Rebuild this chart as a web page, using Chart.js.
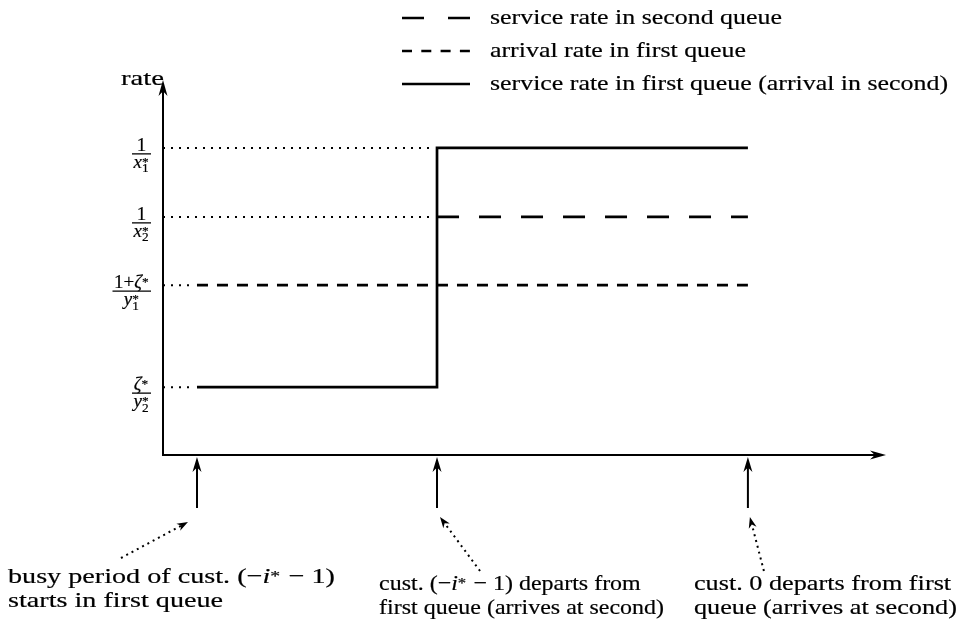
<!DOCTYPE html>
<html><head><meta charset="utf-8">
<script src="https://cdn.jsdelivr.net/npm/chart.js@4.4.0/dist/chart.umd.min.js"></script>
<style>html,body{margin:0;padding:0;background:#fff;}#wrap{width:965px;height:626px;}</style>
</head><body><div id="wrap"><canvas id="c" width="965" height="626"></canvas></div>
<script>
// ---------- data ----------
const eventTimes = [0.47, 3.79, 8.09];                 // busy start, cust (-i*-1) departs, cust 0 departs
const levelValues = [8.19, 6.35, 4.53, 1.81];          // rate levels
const levelNumerators = ['1', '1', '1+$ζ^*$', '$ζ^*$'];
const levelDenominators = ['$x_1^*$', '$x_2^*$', '$y_1^*$', '$y_2^*$'];
const serviceSecondQueue = [null, 6.35, 6.35];
const arrivalFirstQueue = [4.53, 4.53, 4.53];
const serviceFirstQueue = [1.81, 8.19, 8.19];
const seriesLabels = ['service rate in second queue', 'arrival rate in first queue', 'service rate in first queue (arrival in second)'];
const yAxisTitle = 'rate';
const eventCaptions = [
  ['busy period of cust. (−$i^*$ − 1)', 'starts in first queue'],
  ['cust. (−$i^*$ − 1) departs from', 'first queue (arrives at second)'],
  ['cust. 0 departs from first', 'queue (arrives at second)']
];

// ---------- rich text (tiny TeX-like) ----------
const FAM = '"Liberation Serif"';
function fontStr(size, it) { return (it ? 'italic ' : '') + size.toFixed(2) + 'px ' + FAM; }
function parseRich(str) {
  const items = [];
  str.split('$').forEach((p, idx) => {
    if (idx % 2 === 0) { if (p) items.push({t: p, it: false}); return; }
    let i = 0;
    while (i < p.length) {
      if (p[i] === '^' || p[i] === '_') {
        let sup = null, sub = null;
        while (i < p.length && (p[i] === '^' || p[i] === '_')) {
          if (p[i] === '^') sup = p[i + 1]; else sub = p[i + 1];
          i += 2;
        }
        items.push({stack: true, sup, sub});
      } else {
        items.push({t: p[i], it: /[a-zA-Zζ]/.test(p[i])});
        i++;
      }
    }
  });
  return items;
}
function richLayout(ctx, str, size) {
  const items = parseRich(str);
  let w = 0;
  items.forEach(it => {
    if (it.stack) {
      ctx.font = fontStr(size * 0.7, false);
      const a = it.sup ? ctx.measureText(it.sup).width : 0;
      const b = it.sub ? ctx.measureText(it.sub).width : 0;
      it.w = Math.max(a, b) + size * 0.05;
    } else {
      ctx.font = fontStr(size, it.it);
      it.w = ctx.measureText(it.t).width;
    }
    w += it.w;
  });
  return {items, w};
}
function putText(ctx, t, x, y) {
  ctx.fillText(t, x, y);
  ctx.strokeText(t, x, y);
}
function drawRich(ctx, str, x, y, size, align, sx) {
  sx = sx || 1;
  const {items, w} = richLayout(ctx, str, size);
  const W = w * sx;
  const x0 = align === 'center' ? x - W / 2 : align === 'right' ? x - W : x;
  ctx.save();
  ctx.translate(x0, y);
  ctx.scale(sx, 1);
  ctx.textAlign = 'left';
  ctx.textBaseline = 'alphabetic';
  ctx.setLineDash([]);
  ctx.lineWidth = 0.2;
  let cx = 0;
  items.forEach(it => {
    if (it.stack) {
      ctx.font = fontStr(size * 0.7, false);
      if (it.sup) putText(ctx, it.sup, cx, -(it.sup === '*' ? size * 0.1 : size * 0.4));
      if (it.sub) putText(ctx, it.sub, cx, size * 0.24);
    } else {
      ctx.font = fontStr(size, it.it);
      putText(ctx, it.t, cx, 0);
    }
    cx += it.w;
  });
  ctx.restore();
  return W;
}
function stretchFor(ctx, lines, size, target) {
  const w = Math.max(...lines.map(s => richLayout(ctx, s, size).w));
  return target / w;
}

// ---------- arrows ----------
function arrowHead(ctx, tx, ty, ang, len, half) {
  ctx.save();
  ctx.translate(tx, ty);
  ctx.rotate(ang);
  ctx.beginPath();
  ctx.moveTo(0, 0);
  ctx.lineTo(-len, -half);
  ctx.lineTo(-len * 0.7, 0);
  ctx.lineTo(-len, half);
  ctx.closePath();
  ctx.fill();
  ctx.restore();
}

// ---------- datasets ----------
const pts = vals => eventTimes.map((t, i) => ({x: t, y: vals[i]}));
const allSeries = [serviceSecondQueue, arrivalFirstQueue, serviceFirstQueue];
// dotted guides from the rate axis to where each level first appears
const guideEnds = levelValues.map(v => {
  for (let i = 0; i < eventTimes.length; i++) {
    if (allSeries.some(s => s[i] === v)) return eventTimes[i];
  }
  return eventTimes[0];
});
const guideSets = levelValues.map((v, k) => ({
  label: '', isGuide: true,
  data: [{x: 0, y: v}, {x: guideEnds[k] - 0.1, y: v}],
  borderColor: '#000', borderWidth: 2, borderDash: [2, 6], pointRadius: 0, order: 5
}));

const mainSets = [
  {label: seriesLabels[0], data: pts(serviceSecondQueue), borderColor: '#000', borderWidth: 2.7, borderDash: [22, 20], legendDash: [22, 24], pointRadius: 0, spanGaps: false},
  {label: seriesLabels[1], data: pts(arrivalFirstQueue), borderColor: '#000', borderWidth: 2.7, borderDash: [11, 9], legendDash: [10, 9.3], pointRadius: 0},
  {label: seriesLabels[2], data: pts(serviceFirstQueue), borderColor: '#000', borderWidth: 2.7, stepped: 'before', pointRadius: 0}
];

const decor = {
  id: 'decor',
  afterDraw(chart) {
    const ctx = chart.ctx;
    const {left: L, right: R, top: T, bottom: B} = chart.chartArea;
    const xs = chart.scales.x, ys = chart.scales.y;
    ctx.save();
    ctx.strokeStyle = '#000';
    ctx.fillStyle = '#000';
    ctx.setLineDash([]);
    ctx.lineWidth = 2;
    // axes
    ctx.beginPath();
    ctx.moveTo(L, T + 8); ctx.lineTo(L, B); ctx.lineTo(R - 8, B);
    ctx.stroke();
    arrowHead(ctx, L, T, -Math.PI / 2, 16, 4.5);
    arrowHead(ctx, R, B, 0, 16, 4.5);

    const TS = 22; // text size
    // axis title
    drawRich(ctx, yAxisTitle, L + 1, T + 5, TS, 'right', stretchFor(ctx, [yAxisTitle], TS, 43));

    // fraction tick labels
    const fs = 19;
    levelValues.forEach((v, k) => {
      const y = ys.getPixelForValue(v);
      const nw = richLayout(ctx, levelNumerators[k], fs).w;
      const dw = richLayout(ctx, levelDenominators[k], fs).w;
      const bw = Math.max(nw, dw) + 3;
      const cx = L - 12 - bw / 2;
      const bar = y + 6;
      ctx.lineWidth = 1.3;
      ctx.beginPath(); ctx.moveTo(cx - bw / 2, bar); ctx.lineTo(cx + bw / 2, bar); ctx.stroke();
      drawRich(ctx, levelNumerators[k], cx, bar - 3, fs, 'center');
      drawRich(ctx, levelDenominators[k], cx, bar + 14, fs, 'center');
    });

    // event arrows from below
    ctx.lineWidth = 2;
    eventTimes.forEach(t => {
      const px = xs.getPixelForValue(t);
      ctx.beginPath(); ctx.moveTo(px, B + 53); ctx.lineTo(px, B + 10); ctx.stroke();
      arrowHead(ctx, px, B + 2, -Math.PI / 2, 15, 4.5);
    });

    // dotted pointer arrows and captions
    const pointers = [
      {hx: -9, hy: 67, tx: -76, ty: 103, cx: -189, cy: 128, w: 327},
      {hx: 3, hy: 62, tx: 43, ty: 116, cx: -58, cy: 135, w: 285},
      {hx: 2, hy: 62, tx: 16, ty: 116, cx: -54, cy: 135, w: 263}
    ];
    eventTimes.forEach((t, i) => {
      const px = xs.getPixelForValue(t);
      const p = pointers[i];
      const hx = px + p.hx, hy = B + p.hy, tx = px + p.tx, ty = B + p.ty;
      const ang = Math.atan2(hy - ty, hx - tx);
      ctx.lineWidth = 2;
      ctx.setLineDash([2, 4]);
      ctx.beginPath(); ctx.moveTo(tx, ty); ctx.lineTo(hx - 8 * Math.cos(ang), hy - 8 * Math.sin(ang)); ctx.stroke();
      ctx.setLineDash([]);
      arrowHead(ctx, hx, hy, ang, 11, 4);
      const sx = stretchFor(ctx, eventCaptions[i], TS, p.w);
      eventCaptions[i].forEach((line, j) => {
        drawRich(ctx, line, px + p.cx, B + p.cy + j * 24, TS, 'left', sx);
      });
    });

    // legend
    const lsx = stretchFor(ctx, [seriesLabels[2]], TS, 458);
    mainSets.forEach((ds, i) => {
      const y = 18 + i * 33;
      ctx.lineWidth = 2.7;
      ctx.setLineDash(ds.legendDash || []);
      ctx.beginPath(); ctx.moveTo(402, y); ctx.lineTo(470, y); ctx.stroke();
      ctx.setLineDash([]);
      drawRich(ctx, ds.label, 490, y + 6, TS, 'left', lsx);
    });
    ctx.restore();
  }
};

new Chart(document.getElementById('c'), {
  type: 'line',
  data: {datasets: [...mainSets, ...guideSets]},
  options: {
    responsive: false,
    animation: false,
    layout: {padding: {left: 163, right: 79, top: 80, bottom: 171}},
    scales: {
      x: {type: 'linear', display: false, min: 0, max: 10},
      y: {type: 'linear', display: false, min: 0, max: 10}
    },
    elements: {line: {borderCapStyle: 'butt', tension: 0}},
    plugins: {legend: {display: false}, tooltip: {enabled: false}}
  },
  plugins: [decor]
});
</script>
</body></html>
